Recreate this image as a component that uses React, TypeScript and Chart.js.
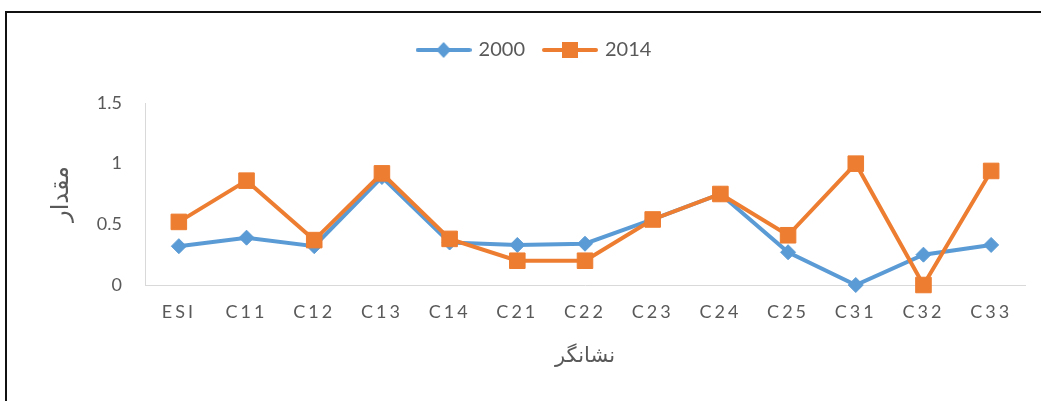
import React, { useEffect, useRef } from 'react';
import { Chart, registerables, CategoryScale } from 'chart.js';

const categories = ['ESI', 'C11', 'C12', 'C13', 'C14', 'C21', 'C22', 'C23', 'C24', 'C25', 'C31', 'C32', 'C33'];
const series2000 = [0.32, 0.39, 0.32, 0.89, 0.35, 0.33, 0.34, 0.54, 0.75, 0.27, 0, 0.25, 0.33];
const series2014 = [0.52, 0.86, 0.37, 0.92, 0.38, 0.2, 0.2, 0.54, 0.75, 0.41, 1.0, 0, 0.94];
const seriesNames = ['2000', '2014'];
const yTicks = [0, 0.5, 1, 1.5];
const xTitle = 'نشانگر';
const yTitle = 'مقدار';

const BLUE = '#5B9BD5';
const ORANGE = '#ED7D31';
const TEXT = '#595959';

class SpacedCategoryScale extends CategoryScale {
  static id = 'spacedCategory';
  static defaults = CategoryScale.defaults;
  drawLabels(area: any) {
    const ctx = (this as any).ctx as CanvasRenderingContext2D;
    ctx.save();
    (ctx as any).letterSpacing = '3px';
    super.drawLabels(area);
    ctx.restore();
  }
}

Chart.register(...registerables, SpacedCategoryScale);

function makeIcon(color: string, shape: 'diamond' | 'square'): HTMLCanvasElement {
  const c = document.createElement('canvas');
  c.width = 56;
  c.height = 20;
  const ctx = c.getContext('2d')!;
  ctx.strokeStyle = color;
  ctx.lineWidth = 4;
  ctx.lineCap = 'round';
  ctx.beginPath();
  ctx.moveTo(2, 10);
  ctx.lineTo(54, 10);
  ctx.stroke();
  ctx.fillStyle = color;
  if (shape === 'diamond') {
    ctx.beginPath();
    ctx.moveTo(28, 2);
    ctx.lineTo(35.5, 10);
    ctx.lineTo(28, 18);
    ctx.lineTo(20.5, 10);
    ctx.closePath();
    ctx.fill();
  } else {
    ctx.fillRect(20, 2, 16, 16);
  }
  return c;
}

export default function App() {
  const ref = useRef<HTMLCanvasElement>(null);
  useEffect(() => {
    const icons = [makeIcon(BLUE, 'diamond'), makeIcon(ORANGE, 'square')];
    const colors = [BLUE, ORANGE];
    const chart = new Chart(ref.current!, {
      type: 'line',
      data: {
        labels: categories,
        datasets: [
          {
            label: seriesNames[0],
            data: series2000,
            borderColor: BLUE,
            backgroundColor: BLUE,
            borderWidth: 4,
            pointStyle: 'rectRot',
            pointRadius: 7.5,
            pointBorderWidth: 1,
            pointBorderColor: BLUE,
            pointBackgroundColor: BLUE,
            tension: 0,
            clip: false,
            order: 1,
          } as any,
          {
            label: seriesNames[1],
            data: series2014,
            borderColor: ORANGE,
            backgroundColor: ORANGE,
            borderWidth: 4,
            pointStyle: 'rect',
            pointRadius: 11,
            pointBorderWidth: 1,
            pointBorderColor: ORANGE,
            pointBackgroundColor: ORANGE,
            tension: 0,
            clip: false,
            order: 0,
          } as any,
        ],
      },
      options: {
        animation: false,
        responsive: true,
        maintainAspectRatio: false,
        layout: { padding: { left: 45, right: 16, top: 20, bottom: 0 } },
        plugins: {
          tooltip: { enabled: false },
          title: {
            display: true,
            text: '',
            weight: 500,
            font: { size: 1 },
            padding: { top: 0, bottom: 31.8 },
          } as any,
          legend: {
            display: true,
            position: 'top',
            labels: {
              usePointStyle: true,
              pointStyleWidth: 50,
              padding: 20,
              color: TEXT,
              font: { family: 'Lato', size: 20 },
              generateLabels: (ch: any) =>
                ch.data.datasets.map((ds: any, i: number) => ({
                  text: ds.label,
                  fillStyle: colors[i],
                  strokeStyle: colors[i],
                  lineWidth: 0,
                  pointStyle: icons[i],
                  hidden: !ch.isDatasetVisible(i),
                  datasetIndex: i,
                  fontColor: TEXT,
                })),
            },
          },
        },
        scales: {
          x: {
            type: 'spacedCategory' as any,
            offset: true,
            grid: { display: false, drawTicks: false },
            border: { display: true, color: '#D9D9D9', width: 1 },
            ticks: {
              color: TEXT,
              font: { family: 'Lato', size: 18 },
              padding: 16,
              autoSkip: false,
              maxRotation: 0,
            },
            title: {
              display: true,
              text: xTitle,
              color: TEXT,
              font: { family: 'DejaVu Sans', size: 21 },
              padding: { top: 0, bottom: 31.4 },
            },
            afterFit: (s: any) => {
              s.height = 116;
            },
          } as any,
          y: {
            min: yTicks[0],
            max: yTicks[yTicks.length - 1],
            grid: { display: false, drawTicks: false },
            border: { display: true, color: '#D9D9D9', width: 1 },
            ticks: {
              stepSize: yTicks[1] - yTicks[0],
              color: TEXT,
              font: { family: 'Lato', size: 18 },
              padding: 23,
              callback: (v: any) => String(v),
            },
            title: {
              display: true,
              text: yTitle,
              color: TEXT,
              font: { family: 'DejaVu Sans', size: 24 },
              padding: { top: 2.6, bottom: 0 },
            },
            afterFit: (s: any) => {
              s.width = 100;
            },
          },
        },
      },
    });
    return () => chart.destroy();
  }, []);

  return (
    <div style={{ position: 'absolute', left: 0, top: 0, width: 1041, height: 401, overflow: 'hidden', background: '#fff' }}>
      <div
        style={{
          position: 'absolute',
          left: 5,
          top: 11,
          width: 1036,
          height: 390,
          boxSizing: 'border-box',
          borderLeft: '2px solid #111',
          borderTop: '2px solid #111',
        }}
      />
      <div style={{ position: 'absolute', left: 0, top: 0, width: 1041, height: 401 }}>
        <canvas ref={ref} />
      </div>
    </div>
  );
}
